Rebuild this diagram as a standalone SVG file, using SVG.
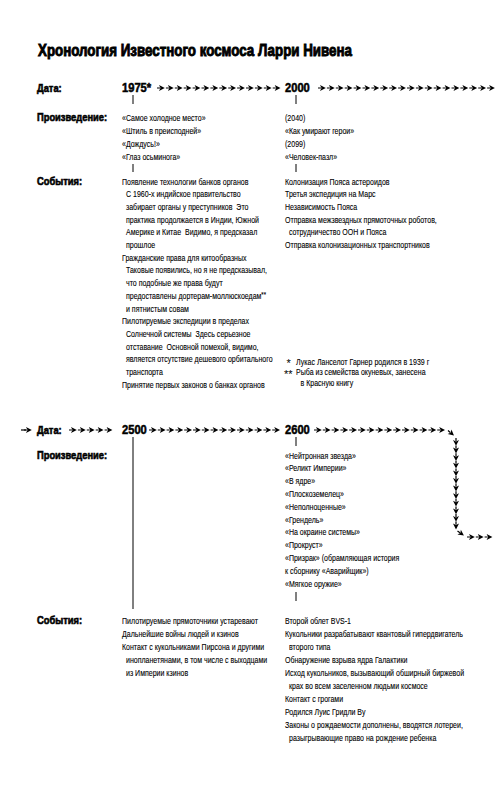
<svg xmlns="http://www.w3.org/2000/svg" xmlns:xlink="http://www.w3.org/1999/xlink" width="499" height="800" viewBox="0 0 499 800">
<style>
.t{font-family:"Liberation Sans",Arial,sans-serif;font-size:9.5px;fill:#000;stroke:#000;stroke-width:0.12;white-space:pre}
.l{font-family:"Liberation Sans",Arial,sans-serif;font-size:11px;font-weight:bold;fill:#000;stroke:#000;stroke-width:0.6}
.d{font-family:"Liberation Sans",Arial,sans-serif;font-size:12px;font-weight:bold;fill:#000;stroke:#000;stroke-width:0.5}
.h{font-family:"Liberation Sans",Arial,sans-serif;font-size:16px;font-weight:bold;fill:#000;stroke:#000;stroke-width:0.9}
.k{stroke:#000;stroke-width:1;fill:none}
.s{font-size:8px}
.st{font-family:"Liberation Sans",Arial,sans-serif;font-size:11px;fill:#000}
</style>
<defs>
<path id="a" d="M0,-0.6H3V0.6H0Z M2,-3L7.8,0L2,3L3.5,0Z" fill="#000"/>
</defs>
<rect width="499" height="800" fill="#fff"/>

<g id="title"><text class="h" x="38" y="56" textLength="314" lengthAdjust="spacingAndGlyphs">Хронология Известного космоса Ларри Нивена</text></g>

<g id="labels-top">
<g transform="translate(37,0) scale(0.85,1)">
<text class="l" x="0" y="92">Дата:</text>
<text class="l" x="0" y="121.5">Произведение:</text>
<text class="l" x="0" y="184.6">События:</text>
</g>
</g>

<g id="date-1975"><g transform="translate(122,0) scale(0.93,1)"><text class="d" x="0" y="92">1975*</text></g></g>
<g id="date-2000"><g transform="translate(285,0) scale(0.93,1)"><text class="d" x="0" y="92">2000</text></g></g>

<g id="works-1975"><g transform="translate(122,0) scale(0.74,1)">
<text class="t" x="0" y="121.5">«Самое холодное место»</text>
<text class="t" x="0" y="134.2">«Штиль в преисподней»</text>
<text class="t" x="0" y="146.9">«Дождусь!»</text>
<text class="t" x="0" y="159.6">«Глаз осьминога»</text>
</g></g>

<g id="works-2000"><g transform="translate(285,0) scale(0.74,1)">
<text class="t" x="0" y="121.5">(2040)</text>
<text class="t" x="0" y="134.2">«Как умирают герои»</text>
<text class="t" x="0" y="146.9">(2099)</text>
<text class="t" x="0" y="159.6">«Человек-пазл»</text>
</g></g>

<g id="events-1975"><g transform="translate(122,0) scale(0.74,1)">
<text class="t" x="0" y="184.6">Появление технологии банков органов</text>
<text class="t" x="5.4" y="197.3">С 1960-х индийское правительство</text>
<text class="t" x="5.4" y="210">забирает органы у преступников  Это</text>
<text class="t" x="5.4" y="222.7">практика продолжается в Индии, Южной</text>
<text class="t" x="5.4" y="235.4">Америке и Китае  Видимо, я предсказал</text>
<text class="t" x="5.4" y="248.1">прошлое</text>
<text class="t" x="0" y="260.8">Гражданские права для китообразных</text>
<text class="t" x="5.4" y="273.5">Таковые появились, но я не предсказывал,</text>
<text class="t" x="5.4" y="286.2">что подобные же права будут</text>
<text class="t" x="5.4" y="298.9">предоставлены дортерам-моллюскоедам<tspan class="s" dy="-2">**</tspan></text>
<text class="t" x="5.4" y="311.6">и пятнистым совам</text>
<text class="t" x="0" y="324.3">Пилотируемые экспедиции в пределах</text>
<text class="t" x="5.4" y="337">Солнечной системы  Здесь серьезное</text>
<text class="t" x="5.4" y="349.7">отставание  Основной помехой, видимо,</text>
<text class="t" x="5.4" y="362.4">является отсутствие дешевого орбитального</text>
<text class="t" x="5.4" y="375.1">транспорта</text>
<text class="t" x="0" y="387.8">Принятие первых законов о банках органов</text>
</g></g>

<g id="events-2000"><g transform="translate(285,0) scale(0.74,1)">
<text class="t" x="0" y="184.6">Колонизация Пояса астероидов</text>
<text class="t" x="0" y="197.3">Третья экспедиция на Марс</text>
<text class="t" x="0" y="210">Независимость Пояса</text>
<text class="t" x="0" y="222.7">Отправка межзвездных прямоточных роботов,</text>
<text class="t" x="5.4" y="235.4">сотрудничество ООН и Пояса</text>
<text class="t" x="0" y="248.1">Отправка колонизационных транспортников</text>
</g></g>

<g id="footnotes">
<text class="st" x="286.5" y="367">*</text>
<text class="st" x="284" y="378">**</text>
<g transform="translate(285,0) scale(0.74,1)">
<text class="t" x="15" y="365">Лукас Ланселот Гарнер родился в 1939 г</text>
<text class="t" x="15" y="375.5">Рыба из семейства окуневых, занесена</text>
<text class="t" x="21" y="386.5">в Красную книгу</text>
</g></g>

<g id="labels-bottom">
<g transform="translate(37,0) scale(0.85,1)">
<text class="l" x="0" y="434">Дата:</text>
<text class="l" x="0" y="458.6">Произведение:</text>
<text class="l" x="0" y="623.6">События:</text>
</g>
</g>

<g id="date-2500"><g transform="translate(122,0) scale(0.93,1)"><text class="d" x="0" y="434">2500</text></g></g>
<g id="date-2600"><g transform="translate(285,0) scale(0.93,1)"><text class="d" x="0" y="434">2600</text></g></g>

<g id="works-2600"><g transform="translate(285,0) scale(0.74,1)">
<text class="t" x="0" y="458.6">«Нейтронная звезда»</text>
<text class="t" x="0" y="471.4">«Реликт Империи»</text>
<text class="t" x="0" y="484.2">«В ядре»</text>
<text class="t" x="0" y="497">«Плоскоземелец»</text>
<text class="t" x="0" y="509.8">«Неполноценные»</text>
<text class="t" x="0" y="522.6">«Грендель»</text>
<text class="t" x="0" y="535.4">«На окраине системы»</text>
<text class="t" x="0" y="548.2">«Прокруст»</text>
<text class="t" x="0" y="561">«Призрак» (обрамляющая история</text>
<text class="t" x="0" y="573.8">к сборнику «Аварийщик»)</text>
<text class="t" x="0" y="586.6">«Мягкое оружие»</text>
</g></g>

<g id="events-2500"><g transform="translate(122,0) scale(0.74,1)">
<text class="t" x="0" y="623.6">Пилотируемые прямоточники устаревают</text>
<text class="t" x="0" y="636.6">Дальнейшие войны людей и кзинов</text>
<text class="t" x="0" y="649.6">Контакт с кукольниками Пирсона и другими</text>
<text class="t" x="5.4" y="662.6">инопланетянами, в том числе с выходцами</text>
<text class="t" x="5.4" y="675.6">из Империи кзинов</text>
</g></g>

<g id="events-2600"><g transform="translate(285,0) scale(0.74,1)">
<text class="t" x="0" y="623.6">Второй облет BVS-1</text>
<text class="t" x="0" y="636.6">Кукольники разрабатывают квантовый гипердвигатель</text>
<text class="t" x="5.4" y="649.6">второго типа</text>
<text class="t" x="0" y="662.6">Обнаружение взрыва ядра Галактики</text>
<text class="t" x="0" y="675.6">Исход кукольников, вызывающий обширный биржевой</text>
<text class="t" x="5.4" y="688.6">крах во всем заселенном людьми космосе</text>
<text class="t" x="0" y="701.6">Контакт с грогами</text>
<text class="t" x="0" y="714.6">Родился Луис Гридли Ву</text>
<text class="t" x="0" y="727.6">Законы о рождаемости дополнены, вводятся лотереи,</text>
<text class="t" x="5.4" y="740.6">разыгрывающие право на рождение ребенка</text>
</g></g>

<g id="connectors">
<g class="k">
<path d="M133,95V104 M296,95V104 M133,164V172 M296,164V172 M133,437V609 M296,437V446 M296,592V601"/>
</g>
<g id="arrows-top">
<use xlink:href="#a" x="157" y="88"/><use xlink:href="#a" x="165.9" y="88"/><use xlink:href="#a" x="174.8" y="88"/><use xlink:href="#a" x="183.7" y="88"/><use xlink:href="#a" x="192.6" y="88"/><use xlink:href="#a" x="201.5" y="88"/><use xlink:href="#a" x="210.4" y="88"/><use xlink:href="#a" x="219.3" y="88"/><use xlink:href="#a" x="228.2" y="88"/><use xlink:href="#a" x="237.1" y="88"/><use xlink:href="#a" x="246" y="88"/><use xlink:href="#a" x="254.9" y="88"/><use xlink:href="#a" x="263.8" y="88"/><use xlink:href="#a" x="272.7" y="88"/>
<use xlink:href="#a" x="318" y="88"/><use xlink:href="#a" x="326.9" y="88"/><use xlink:href="#a" x="335.8" y="88"/><use xlink:href="#a" x="344.7" y="88"/><use xlink:href="#a" x="353.6" y="88"/><use xlink:href="#a" x="362.5" y="88"/><use xlink:href="#a" x="371.4" y="88"/><use xlink:href="#a" x="380.3" y="88"/><use xlink:href="#a" x="389.2" y="88"/><use xlink:href="#a" x="398.1" y="88"/><use xlink:href="#a" x="407" y="88"/><use xlink:href="#a" x="415.9" y="88"/><use xlink:href="#a" x="424.8" y="88"/><use xlink:href="#a" x="433.7" y="88"/><use xlink:href="#a" x="442.6" y="88"/><use xlink:href="#a" x="451.5" y="88"/><use xlink:href="#a" x="460.4" y="88"/><use xlink:href="#a" x="469.3" y="88"/><use xlink:href="#a" x="478.2" y="88"/><use xlink:href="#a" x="487.1" y="88"/>
</g>
<g id="arrows-bottom">
<path d="M21,429.4H26V430.6H21Z" fill="#000"/><use xlink:href="#a" x="24" y="430"/>
<use xlink:href="#a" x="69" y="430"/><use xlink:href="#a" x="77.9" y="430"/><use xlink:href="#a" x="86.8" y="430"/><use xlink:href="#a" x="95.7" y="430"/><use xlink:href="#a" x="104.6" y="430"/>
<use xlink:href="#a" x="149" y="430"/><use xlink:href="#a" x="157.8" y="430"/><use xlink:href="#a" x="166.6" y="430"/><use xlink:href="#a" x="175.4" y="430"/><use xlink:href="#a" x="184.2" y="430"/><use xlink:href="#a" x="193" y="430"/><use xlink:href="#a" x="201.8" y="430"/><use xlink:href="#a" x="210.6" y="430"/><use xlink:href="#a" x="219.4" y="430"/><use xlink:href="#a" x="228.2" y="430"/><use xlink:href="#a" x="237" y="430"/><use xlink:href="#a" x="245.8" y="430"/><use xlink:href="#a" x="254.6" y="430"/><use xlink:href="#a" x="263.4" y="430"/><use xlink:href="#a" x="272.2" y="430"/>
<use xlink:href="#a" x="314" y="430"/><use xlink:href="#a" x="322.8" y="430"/><use xlink:href="#a" x="331.6" y="430"/><use xlink:href="#a" x="340.4" y="430"/><use xlink:href="#a" x="349.2" y="430"/><use xlink:href="#a" x="358" y="430"/><use xlink:href="#a" x="366.8" y="430"/><use xlink:href="#a" x="375.6" y="430"/><use xlink:href="#a" x="384.4" y="430"/><use xlink:href="#a" x="393.2" y="430"/><use xlink:href="#a" x="402" y="430"/><use xlink:href="#a" x="410.8" y="430"/><use xlink:href="#a" x="419.6" y="430"/><use xlink:href="#a" x="428.4" y="430"/><use xlink:href="#a" x="437.2" y="430"/>
<use xlink:href="#a" transform="translate(448,430.5) rotate(40)"/>
<use xlink:href="#a" transform="translate(456,438) rotate(90)"/><use xlink:href="#a" transform="translate(456,445.6) rotate(90)"/><use xlink:href="#a" transform="translate(456,453.2) rotate(90)"/><use xlink:href="#a" transform="translate(456,460.8) rotate(90)"/><use xlink:href="#a" transform="translate(456,468.4) rotate(90)"/><use xlink:href="#a" transform="translate(456,476) rotate(90)"/><use xlink:href="#a" transform="translate(456,483.6) rotate(90)"/><use xlink:href="#a" transform="translate(456,491.2) rotate(90)"/><use xlink:href="#a" transform="translate(456,498.8) rotate(90)"/><use xlink:href="#a" transform="translate(456,506.4) rotate(90)"/><use xlink:href="#a" transform="translate(456,514) rotate(90)"/><use xlink:href="#a" transform="translate(456,521.6) rotate(90)"/>
<use xlink:href="#a" transform="translate(457.5,531) rotate(35)"/>
<use xlink:href="#a" x="467" y="537"/><use xlink:href="#a" x="475.8" y="537"/><use xlink:href="#a" x="484.6" y="537"/>
</g>
</g>
</svg>
